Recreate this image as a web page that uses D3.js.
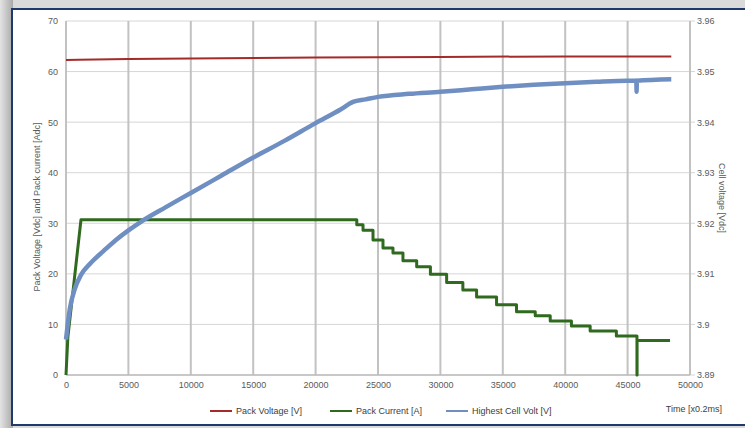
<!DOCTYPE html>
<html><head><meta charset="utf-8">
<script src="https://cdn.jsdelivr.net/npm/d3@7"></script>
<style>
html,body{margin:0;padding:0;background:#d6d6d6;}
svg{display:block;font-family:"Liberation Sans",Arial,sans-serif;}
</style></head>
<body><svg id="c" width="745" height="428"></svg>
<script>
// ---- data ----
const xTicks = [0,5000,10000,15000,20000,25000,30000,35000,40000,45000,50000];
const leftTicks = [0,10,20,30,40,50,60,70];
const rightTicks = [3.89,3.90,3.91,3.92,3.93,3.94,3.95,3.96];
const seriesNames = ["Pack Voltage [V]","Pack Current [A]","Highest Cell Volt [V]"];

const voltTime  = [0, 1000, 5000, 10000, 20000, 30000, 40000, 48500];
const voltValue = [62.3, 62.35, 62.5, 62.6, 62.8, 62.9, 63.0, 63.0];

const currTime  = [0, 150, 1200, 5000, 10000, 15000, 20000, 23300, 23300, 23800, 23800, 24600, 24600, 25400, 25400, 26200, 26200, 27000, 27000, 28100, 28100, 29200, 29200, 30500, 30500, 31800, 31800, 32900, 32900, 34500, 34500, 36100, 36100, 37600, 37600, 38800, 38800, 40500, 40500, 42000, 42000, 44100, 44100, 45750, 45750, 45760, 45760, 48400];
const currValue = [0, 7.5, 30.7, 30.7, 30.7, 30.7, 30.7, 30.7, 29.7, 29.7, 28.6, 28.6, 26.7, 26.7, 25.1, 25.1, 24.1, 24.1, 22.6, 22.6, 21.4, 21.4, 19.9, 19.9, 18.3, 18.3, 16.8, 16.8, 15.4, 15.4, 13.9, 13.9, 12.5, 12.5, 11.7, 11.7, 10.7, 10.7, 9.7, 9.7, 8.7, 8.7, 7.7, 7.7, 0, 0, 6.8, 6.8];

const cellTime  = [0, 300, 700, 1200, 2000, 3000, 4000, 5000, 6000, 8000, 10000, 12500, 15000, 17500, 20000, 22000, 23000, 24000, 25000, 27500, 30000, 32500, 35000, 37500, 40000, 42500, 45000, 45700, 45720, 45740, 48500];
const cellValue = [3.897, 3.903, 3.907, 3.9098, 3.9122, 3.9145, 3.9167, 3.9186, 3.9203, 3.9232, 3.926, 3.9295, 3.933, 3.9363, 3.9398, 3.9425, 3.944, 3.9445, 3.945, 3.9456, 3.946, 3.9465, 3.947, 3.9474, 3.9477, 3.948, 3.9482, 3.9482, 3.946, 3.9482, 3.9485];

// ---- drawing ----
const svg = d3.select("#c");
const W = 745, H = 428;

// frame
const defs = svg.append("defs");
const g1 = defs.append("linearGradient").attr("id","bgL").attr("x1","0").attr("x2","1");
g1.append("stop").attr("offset","0").attr("stop-color","#e4e4e4");
g1.append("stop").attr("offset","1").attr("stop-color","#a9a9a9");
svg.append("rect").attr("width",W).attr("height",H).attr("fill","#dadada");
svg.append("rect").attr("x",0).attr("y",0).attr("width",13).attr("height",H).attr("fill","url(#bgL)");
svg.append("rect").attr("x",12).attr("y",9).attr("width",740).attr("height",416)
  .attr("fill","#ffffff").attr("stroke","#1f3a6a").attr("stroke-width",2);

const x = d3.scaleLinear().domain([0,50000]).range([66,690]);
const yL = d3.scaleLinear().domain([0,70]).range([375,21]);
const yR = d3.scaleLinear().domain([3.89,3.96]).range([375,21]);

const txt = "#5a5a5a";
// horizontal gridlines
svg.append("g").selectAll("line").data(leftTicks).join("line")
  .attr("x1",66).attr("x2",695).attr("y1",d=>yL(d)).attr("y2",d=>yL(d))
  .attr("stroke","#d6d6d6").attr("stroke-width",1);
// vertical gridlines
svg.append("g").selectAll("line").data(xTicks).join("line")
  .attr("x1",d=>x(d)).attr("x2",d=>x(d)).attr("y1",yL(70)).attr("y2",yL(0))
  .attr("stroke","#c2c2c2").attr("stroke-width",2);
svg.append("line").attr("x1",66).attr("x2",690).attr("y1",yL(0)).attr("y2",yL(0))
  .attr("stroke","#bdbdbd").attr("stroke-width",1.5);

// axes (labels via d3 axes)
const fmtR = d => String(+d.toFixed(2));
const axL = svg.append("g").attr("transform","translate(58,0)")
  .call(d3.axisLeft(yL).tickValues(leftTicks).tickSize(0).tickPadding(0));
const axR = svg.append("g").attr("transform","translate(697,0)")
  .call(d3.axisRight(yR).tickValues(rightTicks).tickFormat(fmtR).tickSize(0).tickPadding(0));
const axB = svg.append("g").attr("transform","translate(0,380)")
  .call(d3.axisBottom(x).tickValues(xTicks).tickFormat(d3.format("d")).tickSize(0).tickPadding(0));
[axL,axR,axB].forEach(a=>{
  a.select(".domain").remove();
  a.selectAll("text").attr("fill",txt).attr("font-size","9px");
});
axB.selectAll("text").attr("dy","0.9em");

// lines
const lineL = (ts,vs) => d3.line().x((d,i)=>x(ts[i])).y((d,i)=>yL(vs[i]))(ts);
const lineR = (ts,vs) => d3.line().curve(d3.curveMonotoneX).x((d,i)=>x(ts[i])).y((d,i)=>yR(vs[i]))(ts);

svg.append("path").attr("d",lineL(voltTime,voltValue)).attr("fill","none")
  .attr("stroke","#a52a2a").attr("stroke-width",2);
svg.append("path").attr("d",lineL(currTime,currValue)).attr("fill","none")
  .attr("stroke","#2f6a1f").attr("stroke-width",3).attr("stroke-linejoin","round");
svg.append("path").attr("d",lineR(cellTime,cellValue)).attr("fill","none")
  .attr("stroke","#6f8fc2").attr("stroke-width",4.5).attr("stroke-linejoin","round");

// axis titles
svg.append("text").attr("transform","translate(40,207) rotate(-90)")
  .attr("text-anchor","middle").attr("font-size","9px").attr("fill",txt)
  .text("Pack Voltage [Vdc] and Pack current [Adc]");
svg.append("text").attr("transform","translate(719,198) rotate(90)")
  .attr("text-anchor","middle").attr("font-size","9px").attr("fill",txt)
  .text("Cell voltage [Vdc]");
svg.append("text").attr("x",722).attr("y",412).attr("text-anchor","end")
  .attr("font-size","9px").attr("fill","#404040").text("Time [x0.2ms]");

// legend
const legColors = ["#a52a2a","#2f6a1f","#6f8fc2"];
const legX = [210, 330, 446];
const leg = svg.append("g").selectAll("g").data(seriesNames).join("g")
  .attr("transform",(d,i)=>`translate(${legX[i]},411)`);
leg.append("line").attr("x1",0).attr("x2",22).attr("y1",0).attr("y2",0)
  .attr("stroke",(d,i)=>legColors[i]).attr("stroke-width",2);
leg.append("text").attr("x",26).attr("y",3).attr("font-size","9px").attr("fill","#404040").text(d=>d);
</script></body></html>
